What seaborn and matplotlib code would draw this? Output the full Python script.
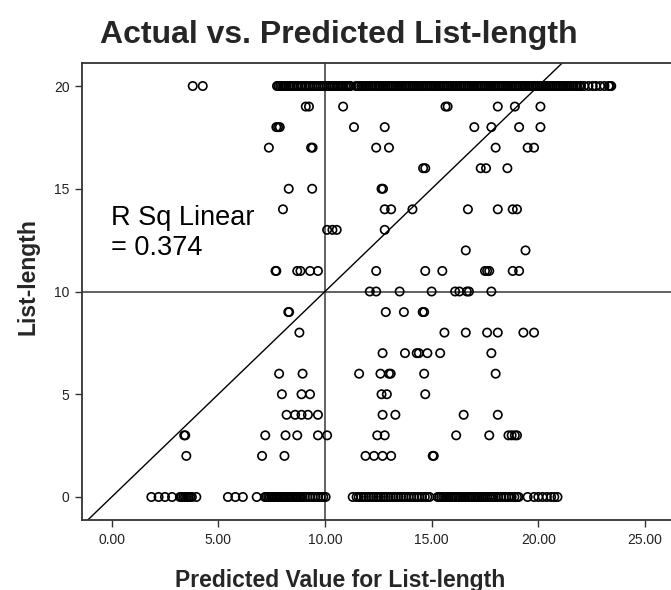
import matplotlib
matplotlib.use("Agg")
import matplotlib.pyplot as plt
import matplotlib.ticker as mticker
import numpy as np
import pandas as pd
import seaborn as sns

# Predicted list-length for each case, grouped by the actual list-length
pred_at_20 = [3.8, 4.27,
              7.75, 7.82, 7.9, 7.98, 8.05, 8.12, 8.2, 8.3, 8.38, 8.47, 8.55, 8.66,
              8.74, 8.85, 8.93, 9.04, 9.12, 9.22, 9.3, 9.41, 9.5, 9.6, 9.7, 9.79,
              9.9, 9.98, 10.08, 10.18, 10.27, 10.37, 10.46, 10.57, 10.65, 10.76,
              10.85, 10.95, 11.03, 11.12, 11.2, 11.45, 11.52, 11.6, 11.7, 11.78,
              11.88, 11.96, 12.05, 12.14, 12.22, 12.32, 12.4, 12.5, 12.58, 12.68,
              12.76, 12.85, 12.94, 13.03, 13.12, 13.2, 13.3, 13.38, 13.47, 13.56,
              13.65, 13.74, 13.83, 13.92, 14.0, 14.1, 14.18, 14.27, 14.36, 14.45,
              14.54, 14.62, 14.72, 14.8, 14.9, 14.98, 15.07, 15.16, 15.25, 15.34,
              15.42, 15.52, 15.6, 15.7, 15.78, 15.87, 15.96, 16.05, 16.14, 16.22,
              16.32, 16.4, 16.5, 16.58, 16.67, 16.76, 16.85, 16.94, 17.02, 17.12,
              17.2, 17.3, 17.38, 17.47, 17.56, 17.65, 17.74, 17.82, 17.92, 18.0,
              18.1, 18.18, 18.27, 18.36, 18.45, 18.54, 18.62, 18.72, 18.8, 18.9,
              18.98, 19.07, 19.16, 19.25, 19.34, 19.42, 19.52, 19.6, 19.7, 19.78,
              19.87, 19.96, 20.05, 20.14, 20.22, 20.32, 20.4, 20.5, 20.58, 20.67,
              20.76, 20.85, 20.94, 21.02, 21.12, 21.2, 21.3, 21.38, 21.47, 21.56,
              21.65, 21.74, 21.82, 21.92, 22.0, 22.15, 22.35, 22.55, 22.7, 22.9,
              23.1, 23.3, 23.36, 23.42]
pred_at_19 = [9.1, 9.25, 10.85, 15.65, 15.75, 18.1, 18.9, 20.1]
pred_at_18 = [7.72, 7.8, 7.88, 11.36, 12.8, 17.0, 17.8, 19.1, 20.1]
pred_at_17 = [7.37, 9.35, 9.42, 12.4, 13.0, 18.0, 19.5, 19.8]
pred_at_16 = [14.6, 14.7, 17.3, 17.55, 18.55]
pred_at_15 = [8.3, 9.4, 12.65, 12.72]
pred_at_14 = [8.03, 12.8, 13.1, 14.1, 16.7, 18.1, 18.8, 19.0]
pred_at_13 = [10.1, 10.35, 10.55, 12.8]
pred_at_12 = [16.6, 19.4]
pred_at_11 = [7.68, 7.72, 8.7, 8.85, 9.3, 9.67, 12.4, 14.7, 15.5, 17.5, 17.6,
              17.7, 18.8, 19.1]
pred_at_10 = [12.1, 12.4, 13.5, 15.0, 16.1, 16.3, 16.65, 16.75, 17.8]
pred_at_9 = [8.28, 8.32, 12.85, 13.7, 14.58, 14.65]
pred_at_8 = [8.8, 15.6, 16.6, 17.6, 18.1, 19.3, 19.8]
pred_at_7 = [12.7, 13.75, 14.3, 14.4, 14.8, 15.4, 17.8]
pred_at_6 = [7.85, 8.95, 11.6, 12.6, 13.0, 13.08, 14.65, 18.0]
pred_at_5 = [7.98, 8.9, 9.3, 12.65, 12.9, 14.7]
pred_at_4 = [8.2, 8.6, 8.9, 9.2, 9.67, 12.7, 13.3, 16.5, 18.1]
pred_at_3 = [3.4, 3.45, 7.2, 8.15, 8.7, 9.67, 10.1, 12.45, 12.8, 16.15, 17.7,
             18.6, 18.75, 18.9, 19.0]
pred_at_2 = [3.5, 7.05, 8.1, 11.9, 12.3, 12.7, 13.1, 15.05, 15.1]
pred_at_0 = [1.86, 2.2, 2.5, 2.83, 3.2, 3.28, 3.36, 3.44, 3.52, 3.6, 3.68, 3.76,
             3.97, 5.45, 5.8, 6.15, 6.8, 7.18, 7.26, 7.34, 7.42, 7.5, 7.58, 7.66,
             7.74, 7.82, 7.9, 7.98, 8.06, 8.14, 8.22, 8.3, 8.38, 8.46, 8.54, 8.62,
             8.7, 8.78, 8.86, 8.94, 9.05, 9.18, 9.3, 9.42, 9.55, 9.68, 9.8, 9.92,
             10.03, 11.3, 11.48, 11.58, 11.7, 11.82, 11.92, 12.05, 12.16, 12.28,
             12.4, 12.5, 12.62, 12.74, 12.85, 12.96, 13.08, 13.2, 13.32, 13.44,
             13.56, 13.68, 13.8, 13.92, 14.05, 14.18, 14.3, 14.42, 14.55, 14.68,
             14.8, 14.9, 15.28, 15.36, 15.45, 15.54, 15.63, 15.72, 15.8, 15.9,
             15.98, 16.08, 16.16, 16.25, 16.34, 16.43, 16.52, 16.6, 16.7, 16.78,
             16.87, 16.96, 17.05, 17.14, 17.22, 17.32, 17.4, 17.5, 17.6, 17.7,
             17.8, 17.9, 18.0, 18.12, 18.25, 18.38, 18.5, 18.62, 18.75, 18.88,
             19.0, 19.08, 19.5, 19.8, 20.0, 20.2, 20.4, 20.6, 20.75, 20.9]

groups = {20: pred_at_20, 19: pred_at_19, 18: pred_at_18, 17: pred_at_17,
          16: pred_at_16, 15: pred_at_15, 14: pred_at_14, 13: pred_at_13,
          12: pred_at_12, 11: pred_at_11, 10: pred_at_10, 9: pred_at_9,
          8: pred_at_8, 7: pred_at_7, 6: pred_at_6, 5: pred_at_5, 4: pred_at_4,
          3: pred_at_3, 2: pred_at_2, 0: pred_at_0}

x_ticks = [0, 5, 10, 15, 20, 25]
y_ticks = [0, 5, 10, 15, 20]
r_sq_text = "R Sq Linear\n= 0.374"

df = pd.DataFrame(
    [(p, actual) for actual, preds in groups.items() for p in preds],
    columns=["predicted", "actual"],
)

sns.set_theme(style="ticks")
plt.rcParams["font.family"] = ["Liberation Sans", "DejaVu Sans"]

W, H = 671, 590
fig = plt.figure(figsize=(W / 100, H / 100), dpi=100)
fig.patch.set_facecolor("white")
ax = fig.add_axes([82 / W, 70 / H, (W - 82) / W, 457 / H])
ax.set_facecolor("white")

sns.scatterplot(data=df, x="predicted", y="actual", ax=ax, marker="o", s=36,
                facecolor="none", edgecolor="black", linewidth=1.2,
                legend=False, zorder=3)
for coll in ax.collections:
    coll.set_facecolor("none")
    coll.set_edgecolor("black")

# reference lines at the means and the y = x fit line
ax.axvline(10, color="#555555", lw=1.3, zorder=2)
ax.axhline(10, color="#555555", lw=1.3, zorder=2)
ax.axline((0, 0), (1, 1), color="black", lw=1.0, zorder=2)

ax.set_xlim(-1.39, 26.22)
ax.set_ylim(-1.12, 21.12)
ax.set_xticks(x_ticks)
ax.set_yticks(y_ticks)
ax.xaxis.set_major_formatter(mticker.FormatStrFormatter("%.2f"))
ax.yaxis.set_major_formatter(mticker.FormatStrFormatter("%d"))
ax.tick_params(axis="both", direction="out", length=5, width=1.0,
               color="#333333", labelsize=10, labelcolor="#222222", pad=4)

for side in ["top", "left", "bottom"]:
    ax.spines[side].set_color("#333333")
    ax.spines[side].set_linewidth(1.3)
ax.spines["right"].set_visible(False)

ax.set_xlabel("")
ax.set_ylabel("")

ax.text(-0.05, 14.2, r_sq_text, fontsize=19.5, color="black",
        va="top", ha="left", linespacing=1.2, transform=ax.transData,
        zorder=4)

fig.text(339 / W, 1 - 35 / H, "Actual vs. Predicted List-length",
         fontsize=23, fontweight="bold", ha="center", va="center")
fig.text(340 / W, 1 - 580 / H, "Predicted Value for List-length",
         fontsize=16.5, fontweight="bold", ha="center", va="center")
fig.text(28 / W, 1 - 277 / H, "List-length", fontsize=16.5,
         fontweight="bold", ha="center", va="center", rotation=90)

fig.savefig("out.png", dpi=100, facecolor="white")
